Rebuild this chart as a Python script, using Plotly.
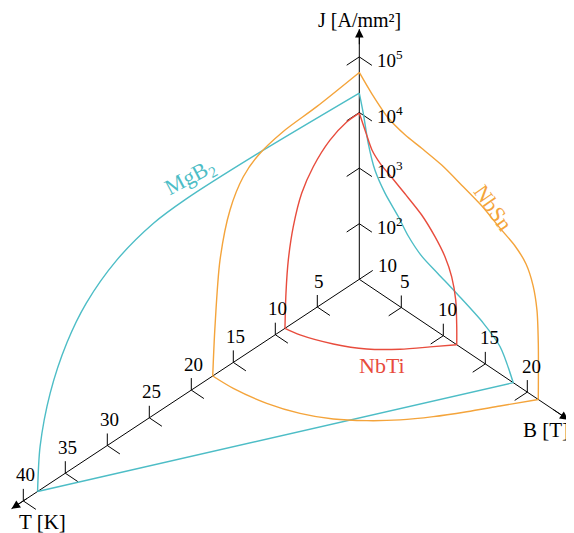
import plotly.graph_objects as go

# axis ticks
t_ticks = [5, 10, 15, 20, 25, 30, 35, 40]
b_ticks = [5, 10, 15, 20]
j_ticks = [1, 2, 3, 4, 5]          # log10 of J in A/mm2

# MgB2 (T in K, B in T, L = log10 J)
mgb2_tj_T = [38.3, 38.0, 36.8, 34.8, 32.5, 28.9, 24.5, 20.6, 12.4, 0]
mgb2_tj_L = [1.0, 1.78, 2.62, 3.33, 3.81, 4.22, 4.45, 4.50, 4.47, 4.35]
mgb2_bj_B = [0, 0.48, 1.07, 1.87, 3.06, 4.64, 5.83, 7.43, 9.40, 11.6, 14.76, 16.75, 18.33]
mgb2_bj_L = [4.35, 4.03, 3.55, 3.15, 2.86, 2.60, 2.37, 2.17, 2.05, 1.92, 1.71, 1.49, 1.0]
mgb2_tb_T = [38.3, 0]
mgb2_tb_B = [0, 18.33]

# Nb3Sn
nbsn_tj_T = [17.45, 17.18, 16.58, 15.39, 13.81, 12.02, 9.05, 5.07, 0]
nbsn_tj_L = [1.0, 1.86, 3.0, 3.78, 4.22, 4.43, 4.56, 4.61, 4.72]
nbsn_bj_B = [0, 1.48, 3.45, 5.44, 7.43, 9.81, 12.19, 14.57, 16.75, 18.54, 19.85, 20.68, 21.15, 21.31, 21.31]
nbsn_bj_L = [4.72, 4.49, 4.25, 4.15, 4.11, 4.05, 3.93, 3.80, 3.62, 3.48, 3.29, 2.99, 2.59, 2.01, 1.0]
nbsn_tb_T = [17.45, 17.32, 16.65, 15.55, 14.06, 12.2, 10.13, 7.84, 5.39, 2.88, 0]
nbsn_tb_B = [0, 2.32, 5.63, 8.49, 10.96, 13.08, 14.98, 16.65, 18.18, 19.63, 21.31]

# NbTi
nbti_tj_T = [8.85, 8.73, 8.45, 7.86, 6.86, 5.48, 3.49, 1.5, 0]
nbti_tj_L = [1.0, 1.62, 2.19, 2.73, 3.23, 3.57, 3.85, 3.98, 3.99]
nbti_bj_B = [0, 0.80, 1.51, 2.46, 3.89, 5.44, 7.43, 9.01, 10.2, 11.0, 11.48, 11.6, 11.6]
nbti_bj_L = [3.99, 3.71, 3.48, 3.34, 3.22, 3.09, 2.91, 2.68, 2.44, 2.16, 1.79, 1.32, 1.0]
nbti_tb_T = [8.85, 8.54, 7.35, 5.79, 3.81, 1.58, 0]
nbti_tb_B = [0, 1.48, 4.25, 6.67, 8.66, 10.39, 11.6]

CYAN = "#4DBDC6"
ORANGE = "#F4A43B"
RED = "#E84C3D"
FONT = "Liberation Serif"

# oblique projection, page pixels per unit
T_VEC = (-8.4, -5.54)
B_VEC = (8.4, -5.64)
J_STEP = 55.6


def proj(T, B, L):
    xs = [T_VEC[0] * t + B_VEC[0] * b for t, b in zip(T, B)]
    ys = [T_VEC[1] * t + B_VEC[1] * b + J_STEP * (l - 1) for t, b, l in zip(T, B, L)]
    return xs, ys


def pt(t, b, l):
    xs, ys = proj([t], [b], [l])
    return xs[0], ys[0]


fig = go.Figure()

# axes lines
T_MAX, B_MAX, L_MAX = 41.4, 24.9, 5.5
for t, b, l in [(T_MAX, 0, 1), (0, B_MAX, 1), (0, 0, L_MAX)]:
    xs, ys = proj([0, t], [0, b], [1, l])
    fig.add_trace(go.Scatter(x=xs, y=ys, mode="lines", line=dict(color="black", width=1),
                             hoverinfo="skip"))

# tick marks
tx, ty = [], []
arm, up = 1.5, 0.216
for t in t_ticks:
    for seg in [([t, t], [0, 0], [1, 1 + up]), ([t, t], [0, arm], [1, 1])]:
        xs, ys = proj(*seg)
        tx += xs + [None]
        ty += ys + [None]
for b in b_ticks:
    for seg in [([0, 0], [b, b], [1, 1 + up]), ([0, arm], [b, b], [1, 1])]:
        xs, ys = proj(*seg)
        tx += xs + [None]
        ty += ys + [None]
for l in j_ticks[1:]:
    for seg in [([0, arm], [0, 0], [l, l]), ([0, 0], [0, arm], [l, l])]:
        xs, ys = proj(*seg)
        tx += xs + [None]
        ty += ys + [None]
xs, ys = proj([0, -1.6], [0, 0], [1, 1])
tx += xs + [None]
ty += ys + [None]
fig.add_trace(go.Scatter(x=tx, y=ty, mode="lines", line=dict(color="black", width=1),
                         hoverinfo="skip"))

# critical surfaces
curves = [
    (mgb2_tj_T, [0] * len(mgb2_tj_T), mgb2_tj_L, CYAN),
    ([0] * len(mgb2_bj_B), mgb2_bj_B, mgb2_bj_L, CYAN),
    (mgb2_tb_T, mgb2_tb_B, [1] * len(mgb2_tb_T), CYAN),
    (nbsn_tj_T, [0] * len(nbsn_tj_T), nbsn_tj_L, ORANGE),
    ([0] * len(nbsn_bj_B), nbsn_bj_B, nbsn_bj_L, ORANGE),
    (nbsn_tb_T, nbsn_tb_B, [1] * len(nbsn_tb_T), ORANGE),
    (nbti_tj_T, [0] * len(nbti_tj_T), nbti_tj_L, RED),
    ([0] * len(nbti_bj_B), nbti_bj_B, nbti_bj_L, RED),
    (nbti_tb_T, nbti_tb_B, [1] * len(nbti_tb_T), RED),
]
for T, B, L, c in curves:
    xs, ys = proj(T, B, L)
    fig.add_trace(go.Scatter(x=xs, y=ys, mode="lines", line=dict(color=c, width=1.4, shape="spline", smoothing=0.8),
                             hoverinfo="skip"))

ann = []
# arrow heads
for (t, b, l), (t0, b0, l0) in [((T_MAX, 0, 1), (T_MAX - 2, 0, 1)),
                                ((0, B_MAX, 1), (0, B_MAX - 2, 1)),
                                ((0, 0, L_MAX), (0, 0, L_MAX - 0.3))]:
    x, y = pt(t, b, l)
    ax, ay = pt(t0, b0, l0)
    ann.append(dict(x=x, y=y, ax=ax, ay=ay, xref="x", yref="y", axref="x", ayref="y", text="",
                    showarrow=True, arrowhead=2, arrowsize=1.7, arrowwidth=1, arrowcolor="black"))

tick_font = dict(family=FONT, size=19, color="black")
for t in t_ticks:
    x, y = pt(t, 0, 1)
    ann.append(dict(x=x, y=y, text=str(t), showarrow=False, xshift=2, yshift=26, font=tick_font))
for b in b_ticks:
    x, y = pt(0, b, 1)
    ann.append(dict(x=x, y=y, text=str(b), showarrow=False, xshift=4, yshift=26, font=tick_font))
for l in j_ticks:
    x, y = pt(0, 0, l)
    if l == 1:
        ann.append(dict(x=x, y=y, text="10", showarrow=False, xanchor="left", xshift=17, yshift=14,
                        font=tick_font))
    else:
        ann.append(dict(x=x, y=y, text="10<sup>%d</sup>" % l, showarrow=False, xanchor="left", xshift=16,
                        yshift=-2, font=tick_font))

lab_font = dict(family=FONT, size=21, color="black")
x, y = pt(0, 0, L_MAX)
ann.append(dict(x=x, y=y, text="J [A/mm²]", showarrow=False, yshift=9, borderpad=0,
                font=dict(family=FONT, size=20, color="black")))
x, y = pt(T_MAX, 0, 1)
ann.append(dict(x=x, y=y, text="T [K]", showarrow=False, xshift=31, yshift=-13, font=lab_font))
x, y = pt(0, B_MAX, 1)
ann.append(dict(x=x, y=y, text="B [T]", showarrow=False, xshift=-22, yshift=-10, font=lab_font))

# material names
x, y = pt(20.15, 0, 4.83)
ann.append(dict(x=x, y=y, text="MgB<sub>2</sub>", showarrow=False, textangle=-28,
                font=dict(family=FONT, size=22, color=CYAN)))
x, y = pt(0, 15.9, 3.90)
ann.append(dict(x=x, y=y, text="NbSn", showarrow=False, textangle=55,
                font=dict(family=FONT, size=22, color=ORANGE)))
x, y = pt(6.36, 9.12, 1)
ann.append(dict(x=x, y=y, text="NbTi", showarrow=False,
                font=dict(family=FONT, size=22, color=RED)))

# the page body adds an 8px offset, so the figure is 8px smaller and the
# ranges start 8px in
fig.update_layout(
    width=566, height=525,
    margin=dict(l=0, r=0, t=0, b=0),
    paper_bgcolor="white", plot_bgcolor="white",
    showlegend=False,
    xaxis=dict(range=[-351.3, 214.7], visible=False),
    yaxis=dict(range=[-253.7, 271.3], visible=False),
    annotations=ann,
)

fig.write_html("out.html")
